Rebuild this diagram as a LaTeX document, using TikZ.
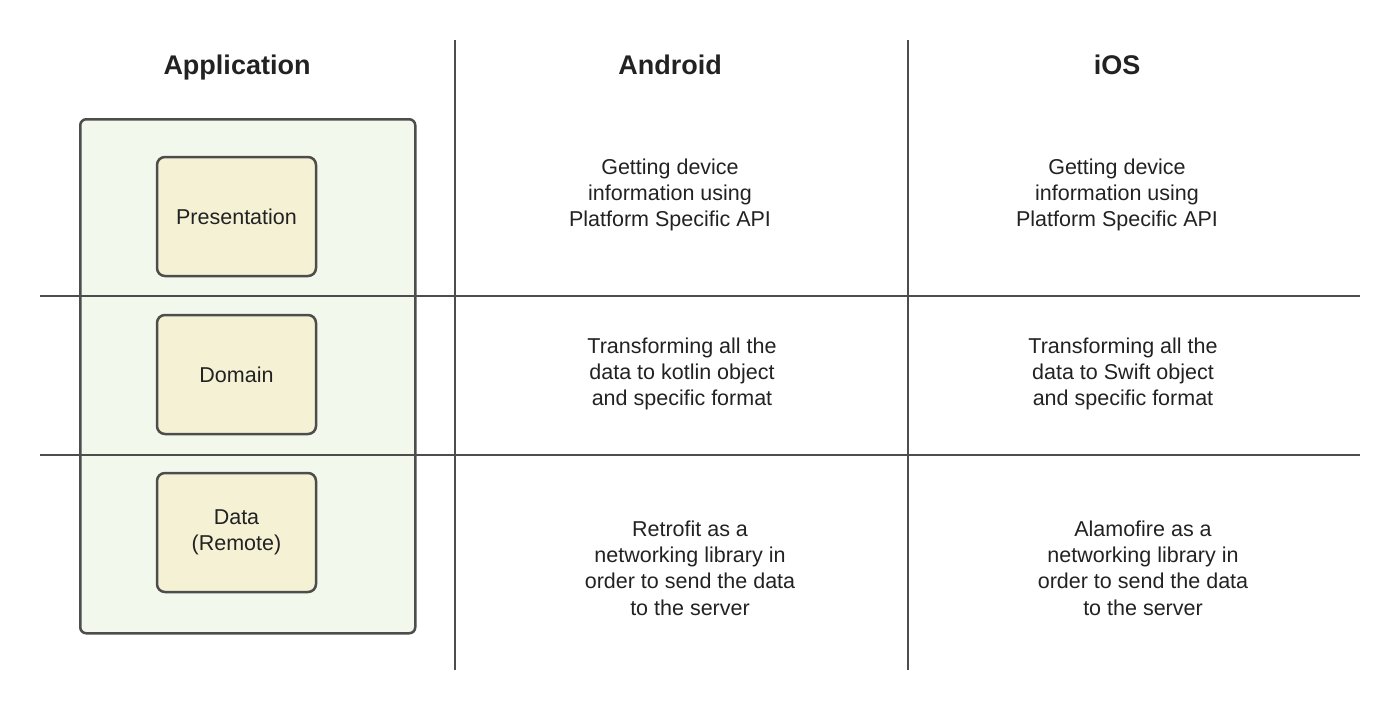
\documentclass[tikz,border=0pt]{standalone}
\usepackage{fontspec}
\setmainfont{Liberation Sans}
\definecolor{linegray}{HTML}{4D4D4D}
\definecolor{outerfill}{HTML}{F3F8EC}
\definecolor{innerfill}{HTML}{F5F1D5}
\definecolor{txt}{HTML}{222222}
\begin{document}
\begin{tikzpicture}[x=1pt,y=-1pt,
  gridline/.style={draw=linegray,line width=2.5pt},
  outerbox/.style={draw=linegray,fill=outerfill,line width=2.5pt,rounded corners=6pt},
  layerbox/.style={draw=linegray,fill=innerfill,line width=2.5pt,rounded corners=8pt,
    minimum width=159pt,minimum height=119pt,align=center,
    font=\fontsize{21.5}{26}\selectfont,text=txt},
  header/.style={font=\fontsize{27}{32}\selectfont\bfseries,text=txt,anchor=base},
  celltext/.style={align=center,font=\fontsize{21.5}{26.3}\selectfont,text=txt}]
\useasboundingbox (0,0) rectangle (1400,710);
% outer application box
\node[outerbox,minimum width=335pt,minimum height=514pt,anchor=north west,inner sep=0pt] (app) at (79,118) {};
% grid lines
\coordinate (h1l) at (40,296); \coordinate (h1r) at (1360,296);
\coordinate (h2l) at (40,455); \coordinate (h2r) at (1360,455);
\coordinate (v1t) at (455,40); \coordinate (v1b) at (455,670);
\coordinate (v2t) at (908,40); \coordinate (v2b) at (908,670);
\draw[gridline] (h1l) -- (h1r);
\draw[gridline] (h2l) -- (h2r);
\draw[gridline] (v1t) -- (v1b);
\draw[gridline] (v2t) -- (v2b);
% layer boxes
\node[layerbox] (pres) at (236.5,216.5) {Presentation};
\node[layerbox] (dom) at (236.5,374.5) {Domain};
\node[layerbox] (data) at (236.5,532.5) {Data\\(Remote)};
% headers
\node[header] (happ) at (237,74) {Application};
\node[header] (hand) at (670,74) {Android};
\node[header] (hios) at (1117,74) {iOS};
% cells
\node[celltext] (a1) at (670,195) {Getting device\\information using\\Platform Specific API};
\node[celltext] (i1) at (1117,195) {Getting device\\information using\\Platform Specific API};
\node[celltext] (a2) at (682,374) {Transforming all the\\data to kotlin object\\and specific format};
\node[celltext] (i2) at (1123,374) {Transforming all the\\data to Swift object\\and specific format};
\node[celltext] (a3) at (690,568) {Retrofit as a\\networking library in\\order to send the data\\to the server};
\node[celltext] (i3) at (1143,568) {Alamofire as a\\networking library in\\order to send the data\\to the server};
\end{tikzpicture}
\end{document}
